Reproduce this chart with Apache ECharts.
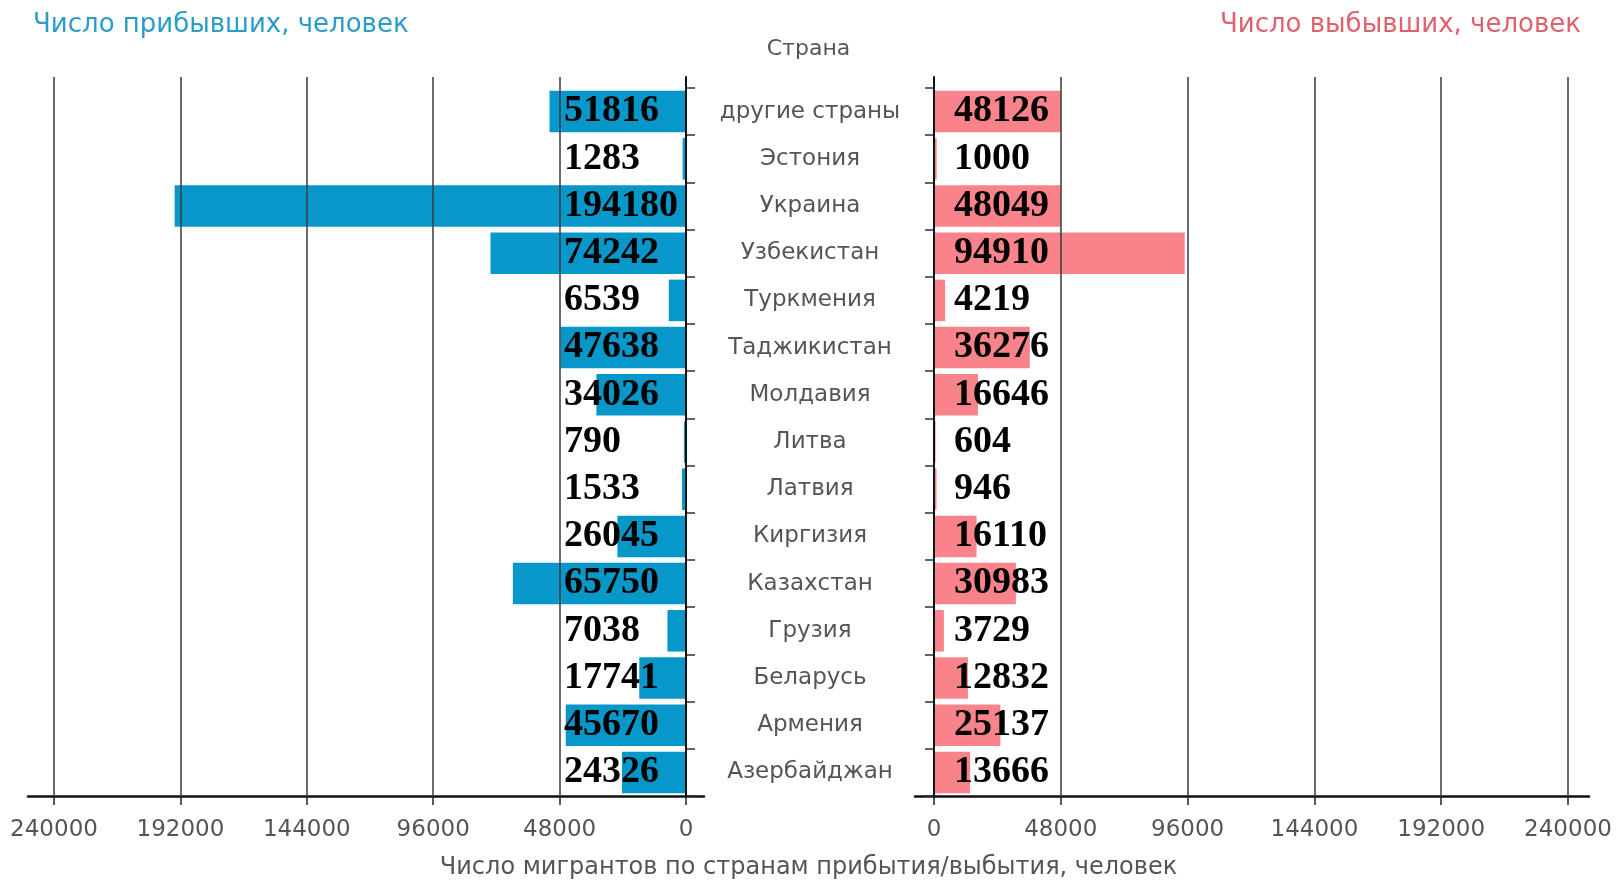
<!DOCTYPE html>
<html>
<head>
<meta charset="utf-8">
<script src="https://cdn.jsdelivr.net/npm/echarts@6/dist/echarts.min.js"></script>
<style>
  html, body { margin: 0; padding: 0; background: #fff; }
  #chartsDom { width: 1617px; height: 881px; }
</style>
</head>
<body>
<div id="chartsDom"></div>
<script>
// страны сверху вниз
const countries = [
  "другие страны", "Эстония", "Украина", "Узбекистан", "Туркмения",
  "Таджикистан", "Молдавия", "Литва", "Латвия", "Киргизия",
  "Казахстан", "Грузия", "Беларусь", "Армения", "Азербайджан"
];
// прибывшие
const arrived = [51816, 1283, 194180, 74242, 6539, 47638, 34026, 790, 1533, 26045, 65750, 7038, 17741, 45670, 24326];
// выбывшие
const departed = [48126, 1000, 48049, 94910, 4219, 36276, 16646, 604, 946, 16110, 30983, 3729, 12832, 25137, 13666];
const axisMax = 240000;
const axisStep = 48000;

const blue = "#0897c9";
const pink = "#f8838b";
const grey = "#555";
const font = "DejaVu Sans";

const chart = echarts.init(document.getElementById("chartsDom"));

// подписи значений
const numLabel = {
  show: true,
  color: "#000",
  fontFamily: "Liberation Serif",
  fontWeight: "bold",
  fontSize: 38
};
// подписи шкалы без разделителей
const tickLabel = {
  color: grey, fontFamily: font, fontSize: 23, margin: 23,
  formatter: v => String(v)
};

const option = {
  animation: false,
  title: [
    { text: "Число прибывших, человек", left: 28, top: 7,
      textStyle: { color: "#2a9cc8", fontFamily: font, fontWeight: "normal", fontSize: 26 } },
    { text: "Число выбывших, человек", right: 31, top: 7,
      textStyle: { color: "#e0606c", fontFamily: font, fontWeight: "normal", fontSize: 26 } },
    { text: "Страна", left: "center", top: 33,
      textStyle: { color: grey, fontFamily: font, fontWeight: "normal", fontSize: 22 } },
    { text: "Число мигрантов по странам прибытия/выбытия, человек", left: "center", top: 851,
      textStyle: { color: grey, fontFamily: font, fontWeight: "normal", fontSize: 24 } }
  ],
  grid: [
    { left: 54, right: 931, top: 88, bottom: 85 },   // бары слева
    { left: 934, right: 49, top: 88, bottom: 85 },   // бары справа
    { left: 54, right: 931, top: 77, bottom: 85 },   // сетка слева
    { left: 934, right: 49, top: 77, bottom: 85 },   // сетка справа
    { left: 28, right: 913, top: 88, bottom: 85 },   // линия оси слева
    { left: 915, right: 28, top: 88, bottom: 85 }    // линия оси справа
  ],
  xAxis: [
    { gridIndex: 0, type: "value", inverse: true, min: 0, max: axisMax, interval: axisStep,
      axisLine: { show: false }, splitLine: { show: false },
      axisTick: { show: true, length: 9, lineStyle: { color: "#222", width: 1.5 } },
      axisLabel: tickLabel },
    { gridIndex: 1, type: "value", min: 0, max: axisMax, interval: axisStep,
      axisLine: { show: false }, splitLine: { show: false },
      axisTick: { show: true, length: 9, lineStyle: { color: "#222", width: 1.5 } },
      axisLabel: tickLabel },
    { gridIndex: 2, type: "value", inverse: true, min: 0, max: axisMax, interval: axisStep, z: 3,
      axisLine: { show: false }, axisTick: { show: false }, axisLabel: { show: false },
      splitLine: { show: true, lineStyle: { color: "#3a3a3a", width: 1.5 } } },
    { gridIndex: 3, type: "value", min: 0, max: axisMax, interval: axisStep, z: 3,
      axisLine: { show: false }, axisTick: { show: false }, axisLabel: { show: false },
      splitLine: { show: true, lineStyle: { color: "#3a3a3a", width: 1.5 } } },
    { gridIndex: 4, type: "value", min: 0, max: 1, show: true,
      axisLine: { show: true, onZero: false, lineStyle: { color: "#111", width: 2.5 } },
      axisTick: { show: false }, axisLabel: { show: false }, splitLine: { show: false } },
    { gridIndex: 5, type: "value", min: 0, max: 1, show: true,
      axisLine: { show: true, onZero: false, lineStyle: { color: "#111", width: 2.5 } },
      axisTick: { show: false }, axisLabel: { show: false }, splitLine: { show: false } }
  ],
  yAxis: [
    { gridIndex: 0, type: "category", inverse: true, data: countries, position: "right",
      axisLine: { show: false },
      axisTick: { show: true, inside: false, length: 9, lineStyle: { color: "#333", width: 1.5 } },
      axisLabel: { show: false } },
    { gridIndex: 1, type: "category", inverse: true, data: countries, position: "left",
      axisLine: { show: false },
      axisTick: { show: true, inside: false, length: 9, lineStyle: { color: "#333", width: 1.5 } },
      axisLabel: { show: true, align: "center", margin: 124, color: grey, fontFamily: font, fontSize: 23 } },
    { gridIndex: 2, type: "category", inverse: true, data: countries, position: "right", z: 3,
      axisLine: { show: true, lineStyle: { color: "#111", width: 2 } },
      axisTick: { show: false }, axisLabel: { show: false } },
    { gridIndex: 3, type: "category", inverse: true, data: countries, position: "left", z: 3,
      axisLine: { show: true, lineStyle: { color: "#111", width: 2 } },
      axisTick: { show: false }, axisLabel: { show: false } },
    { gridIndex: 4, type: "value", show: false },
    { gridIndex: 5, type: "value", show: false }
  ],
  series: [
    {
      name: "Прибывшие", type: "bar", xAxisIndex: 0, yAxisIndex: 0,
      data: arrived, barWidth: "88%",
      itemStyle: { color: blue },
      label: { ...numLabel, position: "insideRight", align: "left", distance: 122 }
    },
    {
      name: "Выбывшие", type: "bar", xAxisIndex: 1, yAxisIndex: 1,
      data: departed, barWidth: "88%",
      itemStyle: { color: pink },
      label: { ...numLabel, position: "insideLeft", distance: 20 }
    }
  ]
};

option && chart.setOption(option);
</script>
</body>
</html>
